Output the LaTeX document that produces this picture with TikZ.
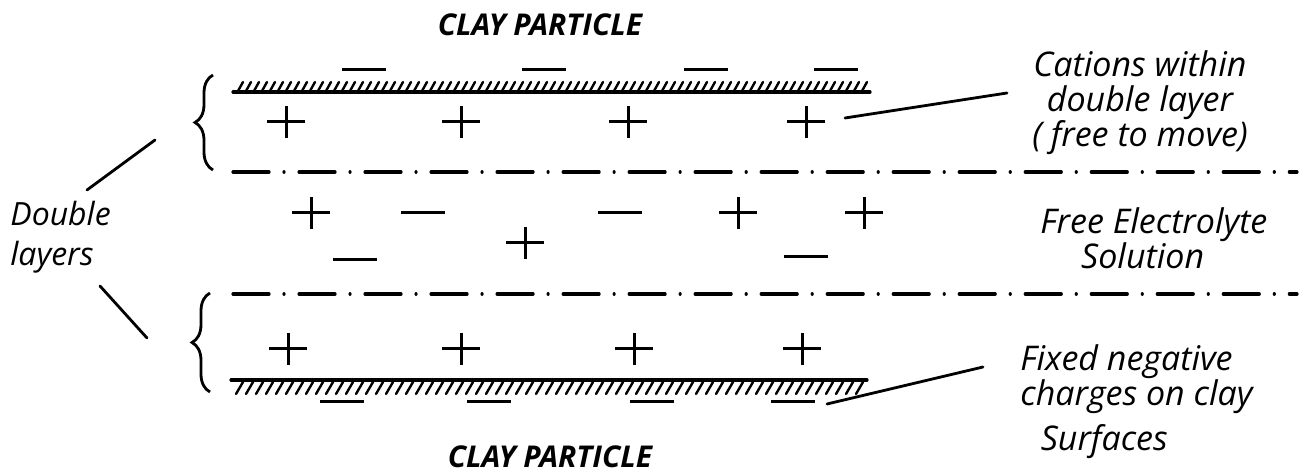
\documentclass[tikz,border=0pt]{standalone}
\usepackage{fontspec}
\setmainfont{Open Sans}
\usetikzlibrary{decorations.pathreplacing, positioning}

% charges, centred on (x,y) in pixel units
\newcommand{\poscharge}[2]{\draw[charge] (#1,#2) ++(-19,0) -- ++(38,0) (#1,#2) ++(0,-16) -- ++(0,32);}
\newcommand{\negcharge}[2]{\draw[charge] (#1,#2) ++(-22,0) -- ++(44,0);}

\tikzset{
  surface/.style={line width=1.6pt, line cap=round},
  hatch/.style={line width=1.2pt, line cap=round},
  charge/.style={line width=1.5pt},
  dashdot/.style={line width=1.6pt, line cap=round, dash pattern=on 18pt off 7.5pt on 0.01pt off 7.5pt},
  leader/.style={line width=1.4pt, line cap=round},
  layerbrace/.style={line width=1.4pt, decorate, decoration={brace, amplitude=9pt}},
  note/.style={font=\fontsize{17}{17.5}\selectfont\itshape, inner sep=0pt},
  title/.style={font=\fontsize{15}{17}\selectfont\bfseries\itshape, inner sep=0pt}
}

\begin{document}
\begin{tikzpicture}[x=0.5pt, y=-0.5pt]
    \useasboundingbox (0,0) rectangle (1310,474);

    % Titles
    \node[title] (claytop) at (540,25) {CLAY PARTICLE};
    \node[title] (claybot) at (550,457) {CLAY PARTICLE};

    % Upper clay surface
    \draw[surface] (233,92) -- (870,92);
    \foreach \x in {238,246,...,862}
        \draw[hatch] (\x,91) -- ++(5,-9);
    \foreach \x in {364,544,706,836}
        {\negcharge{\x}{70}}
    \foreach \x in {286,461,628,806}
        {\poscharge{\x}{122}}

    % Lower clay surface
    \draw[surface] (231,380) -- (867,380);
    \foreach \x in {236,246,...,856}
        \draw[hatch] (\x,394) -- ++(7,-12);
    \foreach \x in {342,489,652,793}
        {\negcharge{\x}{402}}
    \foreach \x in {288,461,634,802}
        {\poscharge{\x}{349}}

    % Double layer limits
    \draw[dashdot] (233,172) -- (1297,172);
    \draw[dashdot] (233,294) -- (1297,294);
    \draw[layerbrace] (213,170) -- (213,75);
    \draw[layerbrace] (210,392) -- (210,293);

    % Free electrolyte
    \poscharge{311}{213}
    \negcharge{423}{213}
    \negcharge{355}{260}
    \poscharge{525}{243}
    \negcharge{620}{213}
    \poscharge{738}{213}
    \negcharge{806}{257}
    \poscharge{864}{213}

    % Labels
    \node[note, align=center] (cations) at (1140,103) {Cations within\\double layer\\( free to move)};
    \node[note, align=left, anchor=west] (free) at (1040,238) {Free Electrolyte\\\hspace*{1.2em}Solution};
    \node[note, align=left, anchor=west] (fixed) at (1020,402) {Fixed negative\\charges on clay\\[5pt]\hspace*{0.6em}Surfaces};
    \node[note, align=left, anchor=west, font=\fontsize{16}{20}\selectfont\itshape] (double) at (10,237) {Double\\layers};

    % Leaders
    \coordinate (cat-tip) at (845,118);
    \coordinate (cat-end) at (1007,93);
    \coordinate (fix-tip) at (827,404);
    \coordinate (fix-end) at (983,367);
    \coordinate (dbl-up-a) at (87,190);
    \coordinate (dbl-up-b) at (155,140);
    \coordinate (dbl-lo-a) at (100,286);
    \coordinate (dbl-lo-b) at (147,338);
    \draw[leader] (cat-tip) -- (cat-end);
    \draw[leader] (fix-tip) -- (fix-end);
    \draw[leader] (dbl-up-a) -- (dbl-up-b);
    \draw[leader] (dbl-lo-a) -- (dbl-lo-b);
\end{tikzpicture}
\end{document}
